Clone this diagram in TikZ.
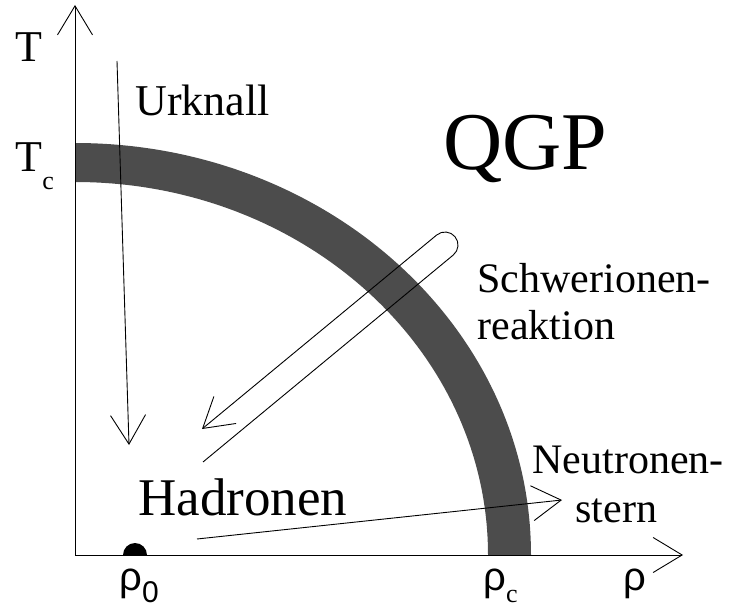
\documentclass[tikz,border=0pt]{standalone}
\usepackage{fontspec}
\setmainfont{Liberation Serif}
\newfontfamily\rhofont{Liberation Sans}
\usetikzlibrary{arrows.meta,calc}
\begin{document}
\begin{tikzpicture}[x=1pt,y=1pt,
  line width=0.9pt,
  barb/.style={-{Straight Barb[length=29pt,width=35pt,line width=0.9pt]}},
  lbl/.style={anchor=base west,inner sep=0pt,font=\fontsize{44}{48}\selectfont},
  band/.style={fill=black!70},
]
\useasboundingbox (0,0) rectangle (733,611);
% coordinates
\coordinate (O) at (75,56);
\coordinate (ytip) at (75,606);
\coordinate (xtip) at (683,56);
% phase boundary band
\fill[band] (531,56) arc[start angle=0,end angle=90,x radius=456,y radius=412]
  -- (75,429) arc[start angle=90,end angle=0,x radius=413,y radius=373] -- cycle;
% axes
\draw[barb] (O) -- (ytip);
\draw[barb] (O) -- (xtip);
% Urknall arrow
\coordinate (u1) at (117,550);
\coordinate (u2) at (129,166);
\draw[barb] (u1) -- (u2);
% Schwerionenreaktion capsule arrow
\coordinate (sL) at (203,149);
\coordinate (sC) at (445,366);
\coordinate (sT) at (202,182);
\draw[barb] (sL) -- ($(sC)+(-50.4:13)$) arc[start angle=-50.4,end angle=129.6,radius=13] -- (sT);
% Neutronenstern arrow
\coordinate (n1) at (197,72);
\coordinate (n2) at (562,111);
\draw[barb] (n1) -- (n2);
% rho_0 dot
\coordinate (dot) at (123,56);
\fill (dot) arc[start angle=180,end angle=0,radius=12] -- cycle;
% labels
\node[lbl] (T) at (15,549) {T};
\node[lbl] (Tc) at (15,439) {T\raisebox{-18pt}{\fontsize{26}{26}\selectfont c}};
\node[lbl] (urk) at (135,495) {Urknall};
\node[lbl,font=\fontsize{82}{90}\selectfont] (qgp) at (443,441) {QGP};
\node[lbl,font=\fontsize{42}{46}\selectfont] (sch) at (477,318) {Schwerionen-};
\node[lbl,font=\fontsize{42}{46}\selectfont] (rea) at (477,271) {reaktion};
\node[lbl,font=\fontsize{42}{46}\selectfont] (neu) at (532,138) {Neutronen-};
\node[lbl,font=\fontsize{42}{46}\selectfont] (ste) at (575,89) {stern};
\node[lbl,font=\fontsize{53}{58}\selectfont] (had) at (138,96) {Hadronen};
\node[lbl,font=\fontsize{40}{44}\selectfont\rhofont] (r0) at (119,21) {ρ\raisebox{-12pt}{\fontsize{30}{30}\selectfont 0}};
\node[lbl,font=\fontsize{40}{44}\selectfont\rhofont] (rc) at (483,21) {ρ\raisebox{-12pt}{\fontsize{26}{26}\selectfont\rmfamily c}};
\node[lbl,font=\fontsize{40}{44}\selectfont\rhofont] (rho) at (623,21) {ρ};
\end{tikzpicture}
\end{document}
